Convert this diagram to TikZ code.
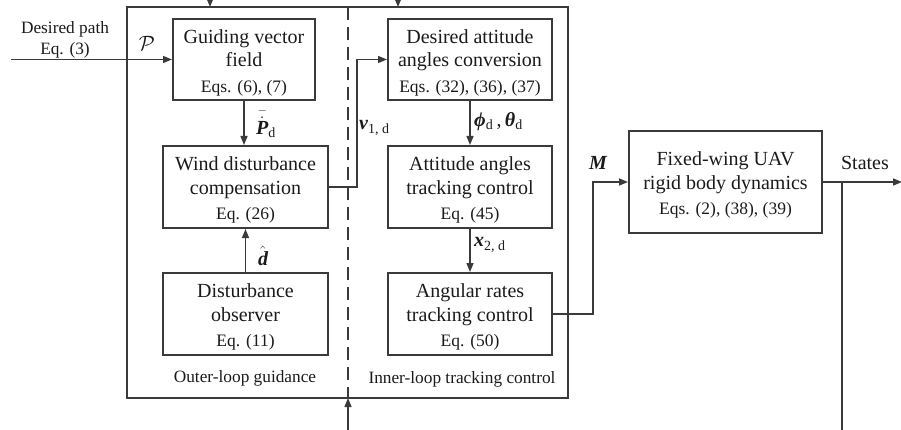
\documentclass[tikz,border=0pt]{standalone}
\usepackage{amsmath}
\usepackage{fontspec}
\setmainfont{Liberation Serif}
\usetikzlibrary{arrows.meta}
\definecolor{ln}{HTML}{3A3A3A}
\definecolor{tx}{HTML}{1A1A1A}
\newcommand{\eqf}{\fontsize{17.5}{21}\selectfont}
\newcommand{\bi}[1]{{\bfseries\itshape #1}}
\newcommand{\tstrut}{\rule{0pt}{20pt}}
\begin{document}
\begin{tikzpicture}[x=1pt,y=-1pt,
  blk/.style={draw=ln,line width=2pt,inner sep=0pt,align=center,text=tx,
    font=\fontsize{20}{23.5}\selectfont},
  conn/.style={draw=ln,line width=1.4pt,-{Triangle[length=9pt,width=7pt]}},
  plain/.style={draw=ln,line width=1.4pt},
  lbl/.style={inner sep=0pt,text=tx,font=\fontsize{20}{24}\selectfont},
  slbl/.style={inner sep=0pt,text=tx,font=\fontsize{17.3}{21}\selectfont,align=center}]
\useasboundingbox (0,0) rectangle (901,430);
% outer box and divider
\draw[ln,line width=2pt] (127,7) rectangle (568,398);
\draw[ln,line width=2.6pt,dash pattern=on 13pt off 7pt] (348,7) -- (348,398);
% blocks
\node[blk,minimum width=142pt,minimum height=81pt] (guide) at (244,59.5)
  {\tstrut Guiding vector\\field\\[2pt]{\eqf Eqs. (6), (7)}};
\node[blk,minimum width=165pt,minimum height=82pt] (wind) at (245.5,187)
  {\tstrut Wind disturbance\\compensation\\[2pt]{\eqf Eq. (26)}};
\node[blk,minimum width=165pt,minimum height=82pt] (dob) at (245.5,314)
  {\tstrut Disturbance\\observer\\[2pt]{\eqf Eq. (11)}};
\node[blk,minimum width=164pt,minimum height=81pt] (des) at (470,59.5)
  {\tstrut Desired attitude\\angles conversion\\[2pt]{\eqf Eqs. (32), (36), (37)}};
\node[blk,minimum width=164pt,minimum height=82pt] (att) at (470,187)
  {\tstrut Attitude angles\\tracking control\\[2pt]{\eqf Eq. (45)}};
\node[blk,minimum width=164pt,minimum height=82pt] (ang) at (470,314)
  {\tstrut Angular rates\\tracking control\\[2pt]{\eqf Eq. (50)}};
\node[blk,minimum width=193pt,minimum height=102pt] (fix) at (725.5,182)
  {\tstrut Fixed-wing UAV\\rigid body dynamics\\[2pt]{\eqf Eqs. (2), (38), (39)}};
% coordinates
\coordinate (pin) at (11,59.5);
\coordinate (vk) at (357,187);
\coordinate (mk) at (593,314);
\coordinate (sout) at (902,182);
\coordinate (sbr) at (842,182);
\coordinate (sdn) at (842,440);
\coordinate (fbin) at (348,440);
\coordinate (fbtop) at (348,398);
\coordinate (ta) at (210,-30);
\coordinate (tae) at (210,7);
\coordinate (tb) at (398,-30);
\coordinate (tbe) at (398,7);
% connectors
\draw[conn] (pin) -- (guide.west);
\draw[conn] (guide.south) -- (guide.south |- wind.north);
\draw[conn] (dob.north) -- (wind.south);
\draw[conn] (wind.east) -- (vk) |- (des.west);
\draw[conn] (des.south) -- (att.north);
\draw[conn] (att.south) -- (ang.north);
\draw[conn] (ang.east) -- (mk) |- (fix.west);
\draw[conn] (fix.east) -- (sout);
\draw[plain] (sbr) -- (sdn);
\draw[conn] (fbin) -- (fbtop);
\draw[conn] (ta) -- (tae);
\draw[conn] (tb) -- (tbe);
% labels
\node[slbl] (dp) at (65,40) {Desired path\\Eq. (3)};
\node[lbl] (lp) at (147,43) {$\mathcal{P}$};
\node[lbl,anchor=west] (lpd) at (256,124) {$\bar{\vphantom{\rule{0pt}{21pt}}\dot{\text{\bfseries\itshape P}}}_{\text{d}}$};
\node[lbl] (ldh) at (263,256) {$\hat{\text{\bfseries\itshape d}}$};
\node[lbl,anchor=west] (lv) at (359,128) {\bi{v}$_{\text{1, d}}$};
\node[lbl,anchor=west] (lphi) at (474,122) {\bi{ϕ}$_{\text{d}}$\,,\,\bi{θ}$_{\text{d}}$};
\node[lbl,anchor=west] (lx) at (474,245) {\bi{x}$_{\text{2, d}}$};
\node[lbl] (lm) at (598,163) {\bi{M}};
\node[lbl,anchor=base] (lst) at (865,170) {States};
\node[slbl,anchor=base] (lo) at (245,382) {Outer-loop guidance};
\node[slbl,anchor=base] (li) at (462,383) {Inner-loop tracking control};
\end{tikzpicture}
\end{document}
